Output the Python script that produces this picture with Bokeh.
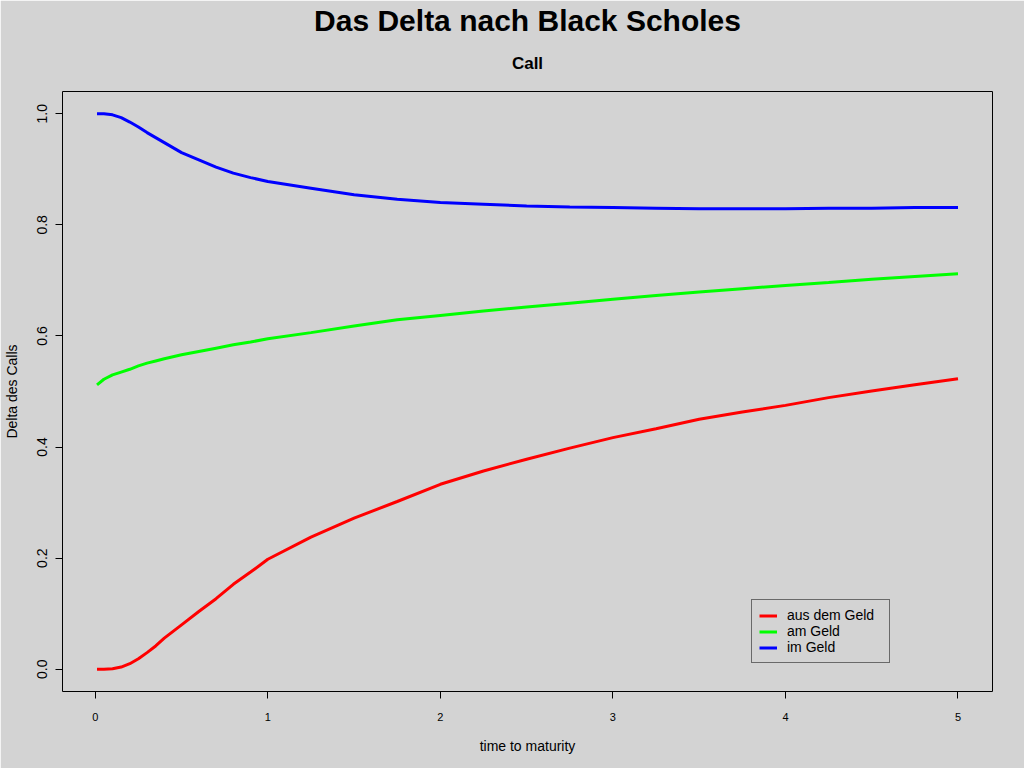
from bokeh.plotting import figure
from bokeh.models import Range1d, FixedTicker, Title, Legend, LegendItem, CustomJSTickFormatter
from bokeh.embed import file_html
from bokeh.resources import INLINE

# ---- data ----
t = [0.01, 0.05, 0.1, 0.15, 0.2, 0.25, 0.3, 0.35, 0.4, 0.5, 0.6, 0.7, 0.8, 0.9, 1.0, 1.25, 1.5, 1.75,
     2.0, 2.25, 2.5, 2.75, 3.0, 3.25, 3.5, 3.75, 4.0, 4.25, 4.5, 4.75, 5.0]
aus_dem_geld = [0.000, 0.000, 0.001, 0.004, 0.010, 0.019, 0.030, 0.042, 0.056, 0.080, 0.104, 0.127,
                0.153, 0.175, 0.198, 0.238, 0.272, 0.302, 0.333, 0.357, 0.378, 0.398, 0.417,
                0.433, 0.450, 0.463, 0.475, 0.489, 0.501, 0.512, 0.523]
am_geld = [0.512, 0.522, 0.530, 0.535, 0.540, 0.546, 0.551, 0.555, 0.559, 0.566, 0.572, 0.578,
           0.584, 0.589, 0.595, 0.606, 0.618, 0.629, 0.637, 0.645, 0.652, 0.659, 0.666,
           0.673, 0.679, 0.685, 0.691, 0.696, 0.702, 0.707, 0.712]
im_geld = [1.000, 1.000, 0.998, 0.993, 0.985, 0.976, 0.966, 0.957, 0.948, 0.930, 0.917, 0.904,
           0.893, 0.885, 0.878, 0.866, 0.854, 0.846, 0.840, 0.837, 0.834, 0.832, 0.831,
           0.830, 0.829, 0.829, 0.829, 0.830, 0.830, 0.831, 0.831]
x_ticks = [0, 1, 2, 3, 4, 5]
y_ticks = [0.0, 0.2, 0.4, 0.6, 0.8, 1.0]
series_names = ["aus dem Geld", "am Geld", "im Geld"]
series_colors = ["#FF0000", "#00FF00", "#0000FF"]
title_text = "Das Delta nach Black Scholes"
subtitle_text = "Call"
x_label = "time to maturity"
y_label = "Delta des Calls"

FONT = "Liberation Sans"
BG = "#D3D3D3"

p = figure(width=1024, height=768, output_backend="svg", toolbar_location=None,
           x_range=Range1d(-0.19, 5.2), y_range=Range1d(-0.04, 1.04),
           min_border_left=62, min_border_right=32, min_border_top=91, min_border_bottom=77,
           background_fill_color=BG, border_fill_color=BG)
p.grid.visible = False
p.outline_line_color = "black"
p.outline_line_width = 1

# titles: main title is p.title; subtitle added afterwards sits nearer the frame
p.title.text = title_text
p.title.align = "center"
p.title.vertical_align = "bottom"
p.title.text_font = FONT
p.title.text_font_size = "30px"
p.title.text_font_style = "bold"
p.title.text_color = "black"
p.title.standoff = 0
p.add_layout(Title(text=subtitle_text, align="center", vertical_align="top", text_font=FONT,
                   text_font_size="17px", text_font_style="bold", text_color="black",
                   standoff=34), "above")

renderers = []
for ys, c in zip([aus_dem_geld, am_geld, im_geld], series_colors):
    r = p.line(t, ys, line_color=c, line_width=3)
    renderers.append(r)

# axes
for ax in [p.xaxis[0], p.yaxis[0]]:
    ax.axis_line_color = None
    ax.major_tick_out = 7
    ax.major_tick_in = 0
    ax.minor_tick_line_color = None
    ax.major_tick_line_color = "black"
    ax.major_label_text_font = FONT
    ax.major_label_text_color = "black"
    ax.axis_label_text_font = FONT
    ax.axis_label_text_font_style = "normal"
    ax.axis_label_text_font_size = "14px"
    ax.axis_label_text_color = "black"

p.xaxis.ticker = FixedTicker(ticks=x_ticks)
p.xaxis.major_label_text_font_size = "11px"
p.xaxis.major_label_standoff = 14
p.xaxis.axis_label = x_label
p.xaxis.axis_label_standoff = 14

p.yaxis.ticker = FixedTicker(ticks=y_ticks)
p.yaxis.formatter = CustomJSTickFormatter(code="return tick.toFixed(1);")
p.yaxis.major_label_orientation = "vertical"
p.yaxis.major_label_text_font_size = "14px"
p.yaxis.major_label_standoff = 8
p.yaxis.axis_label = y_label
p.yaxis.axis_label_standoff = 15

legend = Legend(items=[LegendItem(label=n, renderers=[r]) for n, r in zip(series_names, renderers)],
                location=(689, 28), orientation="vertical",
                label_text_font=FONT, label_text_font_size="14px", label_text_color="black",
                label_height=15, glyph_height=15, glyph_width=18, label_standoff=10,
                label_width=95, spacing=0, padding=7, margin=0,
                border_line_color="black", border_line_width=1,
                background_fill_color=BG, background_fill_alpha=1.0)
p.add_layout(legend)

open("out.html", "w").write(file_html(p, INLINE))
